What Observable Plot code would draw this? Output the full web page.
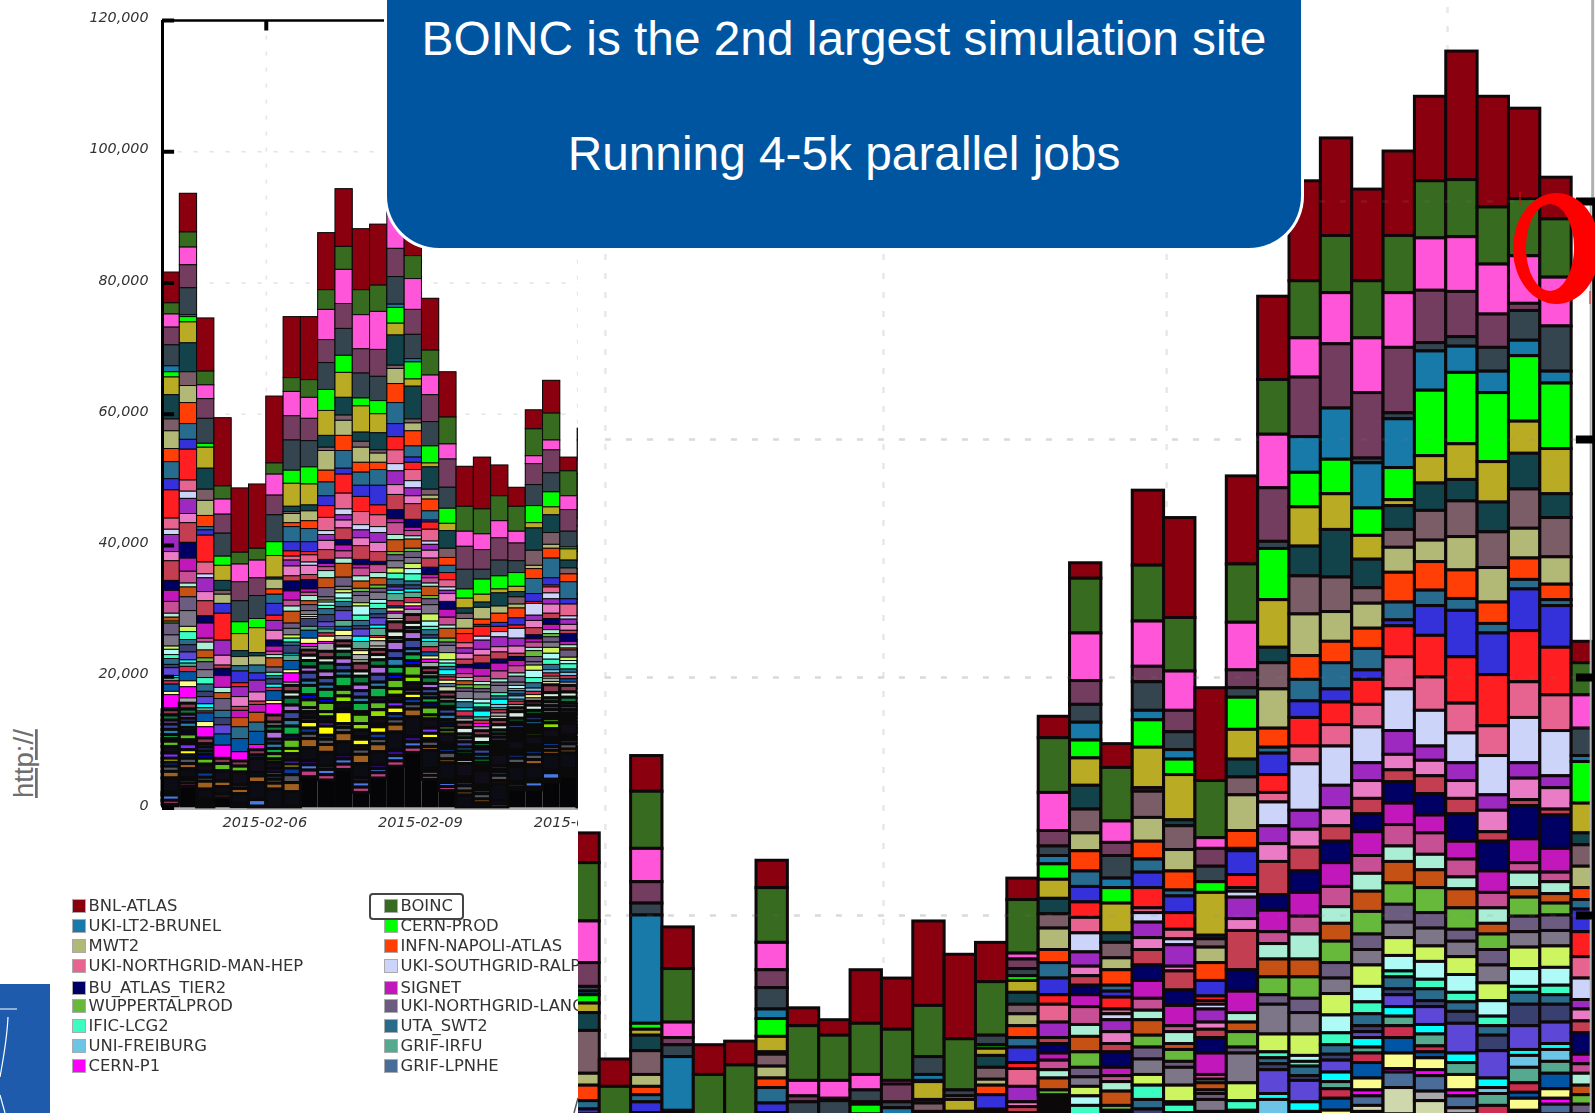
<!DOCTYPE html>
<html>
<head>
<meta charset="utf-8">
<script src="https://cdn.jsdelivr.net/npm/d3@7"></script>
<script src="https://cdn.jsdelivr.net/npm/@observablehq/plot@0.6"></script>
<style>
html,body{margin:0;padding:0;background:#fff;width:1595px;height:1113px;overflow:hidden}
.abs{position:absolute}
#left{left:0;top:0;width:578px;height:830px;filter:blur(.55px)}
#legend{left:0;top:0;width:578px;height:1113px;overflow:hidden;filter:blur(.35px);font:16.4px "DejaVu Sans";color:#333}
#right{left:578px;top:0;width:1017px;height:1113px;background:#fff;overflow:hidden}
#box{left:387px;top:-80px;width:914px;height:328px;background:#0055a1;border-radius:0 0 52px 52px;box-shadow:0 0 0 3px #fff;color:#fff;font-family:"Liberation Sans";font-size:47.8px;text-align:center}
#box div{position:absolute;left:0;right:0;white-space:nowrap}
svg{display:block}
</style>
</head>
<body>
<div id="left" class="abs"></div>
<div id="legend" class="abs"></div>
<svg class="abs" style="left:0;top:0" width="578" height="1113">
  <rect x="0" y="984" width="50" height="129" fill="#1f5bad"/>
  <path d="M0 1009H17M8 1017C7 1040 3 1060 0 1077M0 1095L5 1113" fill="none" stroke="#fff" stroke-width="1.2"/>
  <text transform="translate(33,798) rotate(-90)" font-family="Liberation Sans" font-size="27.5" fill="#6e6e6e" text-decoration="underline">http://</text>
</svg>
<div id="right" class="abs"></div>
<svg class="abs" style="left:0;top:0;pointer-events:none" width="1595" height="1113">
  <path d="M574 1113L578 1098" stroke="#555" stroke-width="1.5"/>
</svg>
<div id="box" class="abs">
  <div style="top:91px">BOINC is the 2nd largest simulation site</div>
  <div style="top:206px">Running 4-5k parallel jobs</div>
</div>
<svg class="abs" style="left:0;top:0;pointer-events:none" width="1595" height="1113">
  <path fill-rule="evenodd" fill="#ff0000" d="M1513 248.5a43.5 55.5 0 1 0 87 0a43.5 55.5 0 1 0 -87 0ZM1526 247.5a24 43.5 0 1 0 48 0a24 43.5 0 1 0 -48 0Z"/>
  <path d="M1520 192V205M1590 291V304" stroke="#e01010" stroke-width="1"/>
</svg>
<script>
// Sites in stack order, top of every bar first; those the legend does not show are numbered only.
const siteColors = ["#8b000f","#376b1f","#ff55d8","#723d5f","#34454f","#187aa8","#00ff00","#b9ac24","#12434b","#7a5d67","#b2b977","#ff3f06","#276b8f","#3430da","#ff1e22","#e6648f","#ccd4fa","#9e29c0","#e97cc5","#c23e50","#000064","#c117bb","#c74f93","#abeed6","#c55114","#67b93c","#6c5d80","#7d7688","#cdf560","#aefaf6","#3bfdc2","#2a6a8a","#37406f","#5c47d6","#00ffff","#6cc5e6","#54a98e","#cc2e4f","#0055a5","#fafd8d","#ff00ff","#4a6c98","#a8a8ac","#cfd8ac","#8a3a50","#d8ece0","#0a7a3c","#b070e0","#3a48a0","#2a80b0","#0fb048","#0000ff","#60c020","#90e000","#100c18","#8030ff","#ffff00","#0a3a9a","#555560","#a06020","#0c0c14","#3a0a90","#4a7ae8","#c04080"];
const legendLeft = [["BNL-ATLAS",0],["UKI-LT2-BRUNEL",5],["MWT2",10],["UKI-NORTHGRID-MAN-HEP",15],["BU_ATLAS_TIER2",20],["WUPPERTALPROD",25],["IFIC-LCG2",30],["UNI-FREIBURG",35],["CERN-P1",40]];
const legendRight = [["BOINC",1],["CERN-PROD",6],["INFN-NAPOLI-ATLAS",11],["UKI-SOUTHGRID-RALPP",16],["SIGNET",21],["UKI-NORTHGRID-LANCS",26],["UTA_SWT2",31],["GRIF-IRFU",36],["GRIF-LPNHE",41]];

// Jobs, in hundreds. Left panel: totals per 8-hour bin, then each bin's sites from the top of the stack.
const leftTotals = [816,936,746,594,487,493,627,748,748,876,943,882,889,971,971,776,664,520,534,522,488,606,651,534,578];
const L00=[47,17,20,27,32,9,8,27,37,18,27,20,26,17,43,17,8,26,14,30,15,17,18,6,6,3,18,17,5,8,6,9,5,12,3,0,5,5,11,5,20,3,0,0,8,0,8,6,8,8,6,4,8,0,10,8,6,6,8,10,22,4,8,6];
const L01=[59,23,27,35,41,3,8,32,44,21,26,32,24,15,47,17,11,23,14,30,24,20,18,6,15,0,21,24,8,0,12,8,11,12,5,0,5,8,14,9,17,0,8,0,9,0,8,6,6,8,5,5,9,0,6,9,8,5,8,8,14,3,5,5];
const L02=[81,21,21,30,38,0,6,32,32,17,23,17,5,8,41,18,6,21,14,23,11,23,6,12,12,6,12,12,0,0,10,11,8,11,6,0,5,3,13,8,17,0,0,0,9,0,5,0,6,5,0,6,9,0,12,0,0,8,6,12,16,4,4,4];
const L03=[104,20,23,29,35,0,14,23,15,6,14,0,0,15,41,0,0,23,15,5,11,18,0,8,9,0,18,0,0,0,0,11,11,14,0,0,0,0,17,0,20,0,0,0,8,0,0,0,0,0,0,0,11,0,16,0,0,0,0,8,12,0,0,5];
const L04=[98,18,27,29,32,0,18,26,9,0,14,0,8,18,6,0,0,15,15,6,0,11,0,0,14,0,0,0,0,0,0,18,0,0,0,0,0,0,20,0,14,0,0,0,8,0,0,0,0,0,0,0,9,0,20,0,0,0,5,8,16,0,0,4];
const L05=[98,18,27,27,35,0,14,38,5,0,14,0,12,11,0,0,0,18,14,5,0,12,0,0,15,0,0,0,0,0,0,14,0,0,0,0,0,0,20,0,8,0,0,0,8,0,0,0,5,0,0,0,0,0,22,0,0,5,0,10,26,0,10,4];
const L06=[102,17,32,30,41,0,21,33,3,0,15,8,14,18,8,0,0,15,15,0,9,8,5,5,14,0,8,0,0,0,5,5,8,0,5,0,0,5,15,5,17,0,0,0,11,6,8,12,6,8,8,0,8,5,10,5,5,6,6,9,30,4,5,8];
const L07=[93,21,37,37,46,0,20,35,8,3,14,6,23,14,8,6,0,9,15,8,15,14,9,8,18,0,8,10,5,0,6,5,12,0,3,0,8,0,14,5,14,0,5,0,10,8,12,10,12,10,14,6,14,8,10,6,6,10,12,14,22,6,8,12];
const L08=[96,27,32,34,40,0,26,32,9,0,15,12,20,15,5,11,5,0,14,8,14,5,5,8,6,0,9,6,3,0,3,0,12,0,0,0,6,0,12,8,5,0,5,0,8,8,10,8,12,8,14,8,12,6,10,5,10,8,8,14,20,6,8,10];
const L09=[87,30,46,35,41,0,32,38,18,5,30,18,21,15,18,20,6,9,14,15,6,5,6,11,15,0,14,5,3,5,5,9,11,8,3,0,6,5,0,8,3,0,12,0,10,8,12,10,10,8,14,6,14,8,8,6,14,6,8,12,20,6,8,8];
const L10=[88,35,52,38,41,0,26,38,27,8,23,23,27,9,29,24,9,8,12,18,8,9,11,8,21,0,14,5,5,8,5,8,6,15,0,0,9,0,6,8,0,0,8,0,8,8,10,10,10,8,16,4,10,10,10,4,18,6,8,14,20,6,8,8];
const L11=[93,38,52,37,38,0,12,40,14,9,23,15,20,17,23,20,8,12,12,21,8,5,12,8,11,5,6,11,5,14,8,8,5,11,8,0,11,3,0,6,0,0,8,5,12,8,12,10,10,8,14,4,14,10,10,4,10,5,8,14,22,6,8,8];
const L12=[93,40,58,41,37,0,20,29,26,5,14,11,24,30,15,18,9,15,14,15,5,0,12,8,11,5,6,11,0,6,8,8,6,11,5,0,11,3,0,5,0,0,8,5,8,8,10,12,12,8,16,6,12,12,10,4,10,8,8,12,20,6,6,8];
const L13=[35,30,54,43,42,5,24,18,46,5,23,29,32,20,20,21,11,21,15,23,14,6,18,8,18,5,9,11,8,0,9,9,3,5,5,0,11,8,3,5,3,0,8,5,14,10,6,14,12,12,12,8,14,10,10,8,10,8,8,12,28,8,8,8];
const L14=[130,35,47,38,37,5,26,11,50,6,12,23,17,8,11,17,11,12,12,24,12,5,8,5,14,5,9,9,8,8,11,6,6,0,5,0,8,8,0,5,5,0,8,0,12,8,6,12,14,8,10,8,16,10,10,6,8,8,8,12,30,8,8,8];
const L15=[79,38,30,41,37,0,26,6,34,9,6,18,14,3,11,18,5,9,12,14,11,5,8,5,14,5,9,14,11,8,5,8,5,0,5,0,8,8,6,5,5,0,8,0,8,6,10,8,8,6,8,6,12,6,14,8,8,4,8,6,28,4,6,6];
const L16=[69,41,23,43,32,0,23,11,27,14,0,12,11,0,11,11,5,5,12,0,12,12,12,5,15,6,5,11,11,5,5,5,0,0,8,0,3,5,0,5,0,5,0,8,8,6,8,4,8,8,5,5,6,6,14,4,4,6,10,6,26,4,6,6];
const L17=[61,38,23,35,30,0,14,15,8,8,15,8,0,0,14,8,0,8,9,8,5,9,6,5,6,5,5,11,0,5,0,9,0,0,5,0,0,8,3,0,0,0,6,0,8,10,6,6,8,6,5,4,4,6,20,4,4,6,8,6,30,3,5,6];
const L18=[79,38,24,30,15,0,23,12,8,0,18,8,0,3,15,0,6,14,9,12,8,12,8,5,0,6,5,11,0,6,6,3,3,0,9,0,5,5,0,0,5,0,6,0,8,10,6,4,8,6,6,5,4,4,22,4,3,6,8,6,30,4,5,4];
const L19=[47,38,26,34,24,0,20,6,20,0,11,14,0,6,8,0,8,15,8,11,6,12,12,5,0,0,5,11,0,0,5,5,0,0,8,5,3,5,0,0,0,0,5,5,8,8,6,5,6,4,4,4,4,4,18,5,3,6,8,5,26,5,5,4];
const L20=[29,38,18,27,18,0,21,8,8,11,6,15,0,11,5,0,15,12,11,5,6,8,11,5,0,0,9,5,0,5,3,5,3,0,0,5,3,5,0,0,0,0,5,0,6,10,6,4,6,4,4,3,3,4,14,4,3,6,8,4,24,3,5,4];
const L21=[29,41,12,32,32,0,26,8,34,23,5,15,23,12,3,0,18,8,11,11,6,5,8,5,0,9,8,5,8,11,8,8,0,0,0,5,0,5,0,5,0,0,5,0,6,8,6,4,6,6,4,4,4,5,14,4,4,6,8,8,22,4,8,4];
const L22=[50,41,15,35,29,0,23,12,27,18,6,15,30,11,3,9,9,8,14,8,9,8,0,6,0,5,8,8,9,9,8,8,0,0,0,5,0,5,0,3,0,0,5,5,12,8,6,6,6,6,4,4,6,9,14,4,3,6,6,6,24,4,10,4];
const L23=[21,38,21,33,24,0,3,17,12,9,0,12,26,8,0,18,5,8,9,5,12,5,0,5,3,0,11,0,5,5,8,5,0,0,0,5,0,5,5,0,0,0,5,0,10,8,8,5,6,5,4,4,4,4,18,4,3,6,8,6,24,4,4,4];
const L24=[18,30,21,38,30,0,12,30,9,14,12,8,30,9,5,20,10,12,14,14,12,8,8,5,6,5,9,8,6,8,8,5,5,8,5,5,5,5,8,5,5,0,5,5,8,6,6,5,6,5,4,4,4,4,16,4,3,5,6,6,24,4,5,4];
const leftBins=[L00,L01,L02,L03,L04,L05,L06,L07,L08,L09,L10,L11,L12,L13,L14,L15,L16,L17,L18,L19,L20,L21,L22,L23,L24];

// Right panel, a magnified later window: the first listed bin starts one step before the first grid line.
const rightTotals=[669,479,734,590,491,494,646,522,512,554,547,595,567,577,631,767,896,744,957,934,791,969,1120,1217,1253,1210,1242,1288,1326,1288,1278,1220,830];
const R00=[25,49,35,20,4,3,7,8,15,36,10,13,7,4];
const R01=[23,46];
const R02=[30,48,28,18,10,91,5,5,13,20,10,7,6,9];
const R03=[35,45,13,6,10,45];
const R04=[25,60];
const R05=[20,60];
const R06=[23,46,23,15,18,8,15,13,2,10,10,8,13,8,3];
const R07=[15,46,13,5,15];
const R08=[13,38,15,2,12];
const R09=[45,43,13,0,10,2,8];
const R10=[43,43,3,15,5,7];
const R11=[71,43,0,0,15,5,1,15,3,7];
const R12=[71,43,0,0,5,0,3,10,4];
const R13=[33,45,0,0,8,0,3,6,10,10,5,8,0,12];
const R14=[18,45,5,8,6,0,4,10,10,8,10,10,8,13,5,15,0,13,4,5];
const R15=[18,46,32,13,8,7,13,16,13,12,18,11,13,14,8,15,0,13,0,5,8,6,8,7,10,4];
const R16=[13,46,40,20,15,15,15,23,20,20,15,17,13,13,13,13,16,12,8,8,8,10,15,10,13,13,8,8,8,8,8,3];
const R17=[20,45,18,11,19,8,13,25,8,13,10,13,5,5,10,4,5,10,10,7,13,7,5,8,12,4];
const R18=[63,47,38,13,24,8,23,34,3,22,20,15,11,13,17,4,8,13,10,13,13,15,10,8,13,10,10,13,9,0,12,8,6,4];
const R19=[84,45,33,18,15,8,13,38,5,20,18,16,5,14,14,8,5,18,4,16,13,17,5,10,5,10,5,15,14,2,7];
const R20=[78,48,9,15,13,0,9,36,3,7,13,15,0,13,4,3,4,11,6,7,13,18,4,3,6,3,5,10];
const R21=[74,49,40,15,8,0,27,25,15,15,30,15,2,20,11,3,5,18,10,33,18,18,0,8,8,13,5,25,15,0,8];
const R22=[70,46,45,45,6,0,43,40,13,22,33,16,5,18,15,8,20,15,15,28,13,18,10,13,15,15,8,25,15,0,5,5,5,20,5,13];
const R23=[84,48,33,50,0,30,29,33,25,32,35,20,18,14,24,15,39,16,15,20,18,20,15,21,15,18,12,18,18,5,4,8,4,18,8];
const R24=[82,48,43,54,0,43,29,30,40,29,25,18,22,11,19,18,33,19,15,13,18,20,17,14,15,18,13,13,18,15,10,8,5,10,8,0,6,8,10,4];
const R25=[77,48,46,55,4,38,23,20,24,13,21,17,18,8,21,19,30,15,15,13,15,20,15,15,17,19,13,13,18,13,10,10,5,5,8,0,5,8,13,10,5,8,0,5];
const R26=[71,48,46,55,5,41,27,5,20,15,21,25,15,5,26,27,35,20,13,10,18,18,18,13,18,18,15,13,15,13,5,10,5,10,8,0,8,10,13,13,3,13,0,22];
const R27=[71,48,44,44,7,33,55,23,23,25,18,24,13,25,35,28,30,12,13,15,18,15,18,13,15,21,13,15,13,15,8,10,5,15,8,0,10,5,5,10,5,13,8,15];
const R28=[108,48,46,38,8,22,60,30,18,30,28,24,10,39,39,25,25,15,15,13,23,15,15,10,16,18,10,13,15,15,8,8,10,25,8,0,10,0,0,13,5,10,5];
const R29=[93,48,42,28,20,18,58,34,25,30,29,18,8,35,43,25,33,13,18,8,25,18,13,13,9,13,13,15,15,13,8,8,13,23,8,5,10,8];
const R30=[76,48,40,6,25,13,55,27,30,33,25,18,8,35,43,30,38,13,18,5,28,20,8,13,8,16,13,13,18,15,5,10,18,20,5,10,13,8,5,10];
const R31=[35,49,41,0,38,10,55,38,20,33,23,13,5,35,40,30,38,10,18,5,28,20,8,10,8,10,13,13,18,15,8,8,15,18,5,10,10,0,13,8,5,8];
const R32=[18,27,28,0,23,5,35,25,10,18,18,10,8,19,21,18,18,8,10,10,18,8,8,10,8,8,8,5];
const rightBins=[R00,R01,R02,R03,R04,R05,R06,R07,R08,R09,R10,R11,R12,R13,R14,R15,R16,R17,R18,R19,R20,R21,R22,R23,R24,R25,R26,R27,R28,R29,R30,R31,R32];

const yTicks=[0,20000,40000,60000,80000,100000,120000];
const dateTicks=["2015-02-06","2015-02-09","2015-02-12"];

const STEP=8*3600e3;
const leftStart=Date.UTC(2015,1,4);
const rightStart=Date.UTC(2015,1,20);
const lt=i=>new Date(leftStart+i*STEP);
const rt=i=>new Date(rightStart+i*STEP);

function rows(bins,totals,t,first,lastTime){
  const segs=[],bars=[];
  bins.forEach((vals,b)=>{
    const x1=t(b+first);let x2=t(b+first+1);
    if(lastTime&&x2>lastTime)x2=lastTime;
    let top=totals[b]*100;
    bars.push({x1,x2,y:top});
    vals.forEach((v,s)=>{
      if(!v||top<=0)return;
      const bottom=Math.max(0,top-v*100);
      segs.push({x1,x2,y1:bottom,y2:top,s});
      top=bottom;
    });
  });
  return {segs,bars};
}
const color={type:"ordinal",domain:d3.range(siteColors.length),range:siteColors};

// Left panel
const L=rows(leftBins,leftTotals,lt,0);
const leftEnd=lt(24.05);
const dash="#e4e4e4";
const leftPlot=Plot.plot({
  width:578,height:830,marginLeft:162,marginRight:0,marginTop:20,marginBottom:22.5,
  style:{fontFamily:"DejaVu Sans",background:"transparent",overflow:"hidden"},
  x:{type:"utc",domain:[lt(0),leftEnd]},
  y:{domain:[0,120000]},
  color,
  marks:[
    Plot.ruleY(yTicks.slice(1,-1),{x1:lt(0.9),x2:leftEnd,stroke:dash,strokeWidth:1.5,strokeDasharray:"4 12"}),
    Plot.ruleX([lt(6),lt(15),lt(24)],{y1:0,y2:120000,stroke:dash,strokeWidth:1.5,strokeDasharray:"4 12"}),
    Plot.rect(L.bars,{x1:"x1",x2:"x2",y1:0,y2:"y",fill:"#050508"}),
    Plot.rect(L.segs,{x1:"x1",x2:"x2",y1:"y1",y2:"y2",fill:"s",stroke:"#0a0a0a",strokeWidth:d=>d.s>=44?3:1}),
    Plot.ruleY([0],{x1:lt(0),x2:leftEnd,stroke:"#999",strokeWidth:1.5,dy:1}),
    Plot.ruleX([lt(0)],{y1:0,y2:120000,stroke:"#000",strokeWidth:3}),
    Plot.ruleY([120000],{x1:lt(0),x2:leftEnd,stroke:"#000",strokeWidth:2.5}),
    Plot.ruleY(yTicks,{x1:lt(0),x2:lt(0.7),stroke:"#000",strokeWidth:4}),
    Plot.ruleX([lt(6)],{y1:120000,y2:118400,stroke:"#000",strokeWidth:4}),
    Plot.axisY({ticks:yTicks,tickSize:0,tickPadding:14,tickFormat:d3.format(","),fontSize:14.3,fontStyle:"italic",fill:"#333",dy:-3,label:null}),
    Plot.axisX({ticks:dateTicks.map(d=>new Date(d)),tickSize:0,tickPadding:9,tickFormat:d3.utcFormat("%Y-%m-%d"),fontSize:14.6,fontStyle:"italic",fill:"#333",dx:-1.5,label:null})
  ]
});
document.getElementById("left").append(leftPlot);

// Legend
const lg=document.getElementById("legend");
function entry(name,s,sx,tx,row){
  const y=896+row*20+(row===4?1.5:0);
  const sw=document.createElement("div");
  sw.style.cssText=`position:absolute;left:${sx}px;top:${y+3}px;width:12px;height:12px;background:${siteColors[s]};border:.5px solid #aaa`;
  const tx2=document.createElement("div");
  tx2.textContent=name;
  tx2.style.cssText=`position:absolute;left:${tx}px;top:${y}px;white-space:nowrap;line-height:19px`;
  lg.append(sw,tx2);
}
legendLeft.forEach(([n,s],i)=>entry(n,s,72,88.5,i));
legendRight.forEach(([n,s],i)=>entry(n,s,384,400.5,i));
const bx=document.createElement("div");
bx.style.cssText="position:absolute;left:369px;top:893px;width:91px;height:23px;border:2px solid #444;border-radius:4px";
lg.append(bx);

// Right panel
const rOrigin=-1;
const xOf=k=>rt(k-rOrigin);
const rEnd=xOf(31.67);
const R=rows(rightBins,rightTotals,rt,0,rEnd);
const gridK=[0.18,9.05,18.08,27.04].map(xOf);
const rightTicks=[60000,80000,100000,120000];
const rightPlot=Plot.plot({
  width:1017,height:1113,margin:0,
  style:{background:"#fff",overflow:"hidden"},
  x:{type:"utc",domain:[xOf(-0.678),xOf(31.76)],range:[0,1017]},
  y:{domain:[0,120000],range:[1629,201]},
  color,
  marks:[
    Plot.ruleY(rightTicks,{x1:xOf(0.18),x2:rEnd,stroke:"#e8e8e8",strokeWidth:2.5,strokeDasharray:"6 15"}),
    Plot.ruleX(gridK,{y1:40000,y2:138000,stroke:"#e8e8e8",strokeWidth:2.5,strokeDasharray:"6 13"}),
    Plot.ruleX([rEnd],{y1:120000,y2:140000,stroke:"#b0b0b0",strokeWidth:3}),
    Plot.rect(R.bars,{x1:"x1",x2:"x2",y1:30000,y2:"y",fill:"#0a0808"}),
    Plot.rect(R.segs,{x1:"x1",x2:"x2",y1:"y1",y2:"y2",fill:"s",stroke:"#0e080a",strokeWidth:3}),
    Plot.ruleY(rightTicks,{x1:xOf(0.18),x2:rEnd,stroke:"#888",strokeOpacity:.14,strokeWidth:2.5,strokeDasharray:"6 15"}),
    Plot.ruleX([rEnd],{y1:30000,y2:120000,stroke:"#b0b0b0",strokeWidth:2,dx:-2}),
    Plot.ruleX([rEnd],{y1:30000,y2:120000,stroke:"#000",strokeWidth:3,dx:1}),
    Plot.ruleY(rightTicks,{x1:xOf(31.15),x2:xOf(32),stroke:"#000",strokeWidth:8})
  ]
});
document.getElementById("right").append(rightPlot);
</script>
</body>
</html>
